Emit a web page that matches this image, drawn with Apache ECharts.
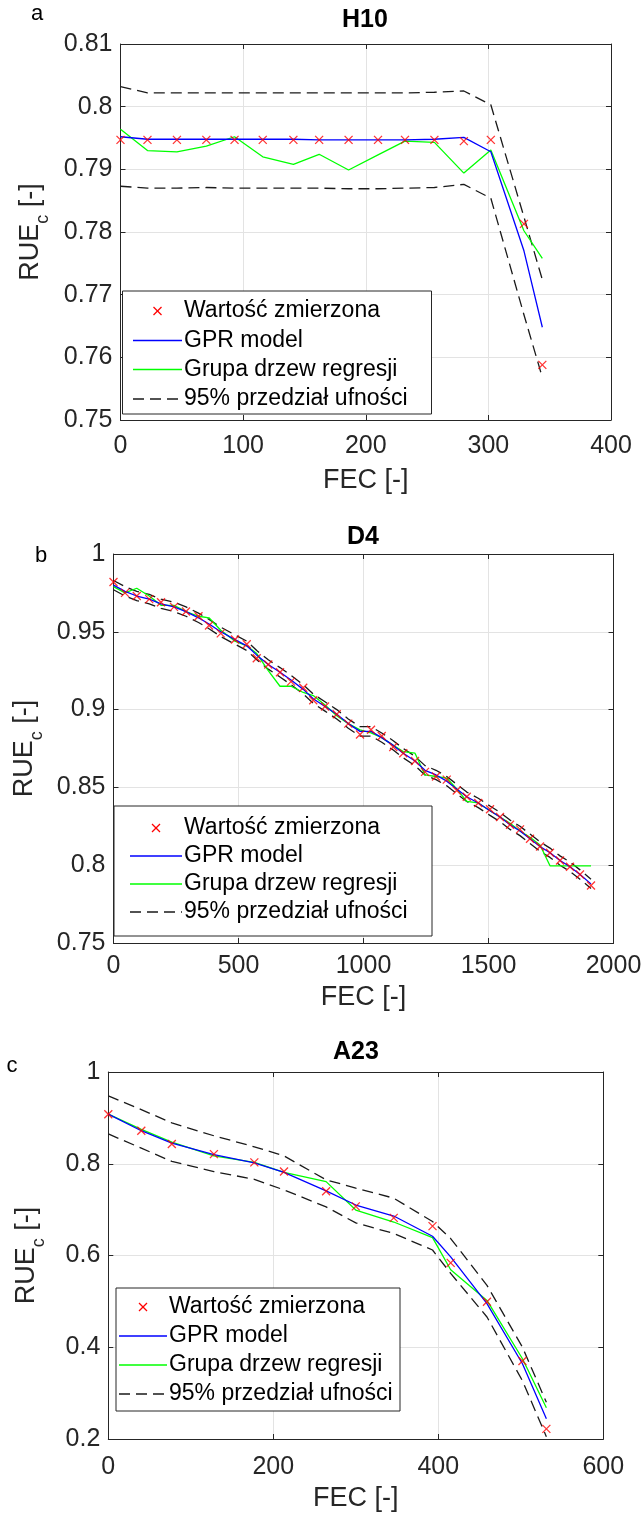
<!DOCTYPE html>
<html><head><meta charset="utf-8">
<script src="https://cdn.jsdelivr.net/npm/echarts@6/dist/echarts.min.js"></script>
<style>html,body{margin:0;padding:0;background:#fff}#c{width:642px;height:1517px}</style>
</head><body><div id="c"></div>
<script>
// ---------- Panel a: H10 ----------
const h10_fec      = [0, 22, 46, 70, 93, 116, 141, 162, 186, 210, 232, 256, 280, 302, 329, 344];
const h10_measured = [0.7947, 0.7947, 0.7947, 0.7947, 0.7947, 0.7947, 0.7947, 0.7947, 0.7947, 0.7947, 0.7947, 0.7947, 0.7945, 0.7947, 0.7813, 0.7588];
const h10_gpr      = [0.7952, 0.7948, 0.7948, 0.7948, 0.7948, 0.7948, 0.7948, 0.7947, 0.7947, 0.7947, 0.7947, 0.7948, 0.7951, 0.7928, 0.7770, 0.7648];
const h10_trees    = [0.7964, 0.7930, 0.7928, 0.7937, 0.7952, 0.7920, 0.7908, 0.7924, 0.7899, 0.7923, 0.7945, 0.7943, 0.7894, 0.7931, 0.7802, 0.7758];
const h10_upper    = [0.8032, 0.8022, 0.8022, 0.8022, 0.8022, 0.8022, 0.8022, 0.8022, 0.8022, 0.8022, 0.8022, 0.8023, 0.8025, 0.8003, 0.7824, 0.7724];
const h10_lower    = [0.7873, 0.7870, 0.7870, 0.7871, 0.7870, 0.7870, 0.7870, 0.7870, 0.7869, 0.7869, 0.7870, 0.7871, 0.7876, 0.7854, 0.7668, 0.7568];
const h10_xticks   = [0, 400, 100];
const h10_yticks   = [0.75, 0.81, 0.01];

// ---------- Panel b: D4 ----------
const d4_fec      = [0, 46, 93, 143, 190, 242, 290, 340, 382, 429, 486, 533, 573, 619, 666, 710, 759, 799, 846, 893, 939, 986, 1030, 1073, 1119, 1159, 1206, 1246, 1290, 1333, 1373, 1413, 1459, 1506, 1546, 1586, 1626, 1666, 1706, 1746, 1786, 1826, 1866, 1910];
const d4_measured = [0.982, 0.975, 0.973, 0.971, 0.969, 0.966, 0.963, 0.960, 0.954, 0.949, 0.945, 0.942, 0.933, 0.929, 0.924, 0.918, 0.914, 0.906, 0.902, 0.897, 0.891, 0.884, 0.887, 0.883, 0.876, 0.872, 0.867, 0.860, 0.857, 0.855, 0.848, 0.844, 0.840, 0.836, 0.831, 0.826, 0.823, 0.817, 0.812, 0.808, 0.803, 0.799, 0.794, 0.787];
const d4_gpr      = [0.980, 0.976, 0.973, 0.971, 0.968, 0.966, 0.963, 0.959, 0.955, 0.950, 0.945, 0.941, 0.935, 0.929, 0.924, 0.919, 0.913, 0.907, 0.902, 0.897, 0.891, 0.886, 0.886, 0.882, 0.877, 0.872, 0.867, 0.861, 0.858, 0.854, 0.849, 0.844, 0.840, 0.835, 0.831, 0.826, 0.822, 0.817, 0.812, 0.808, 0.803, 0.799, 0.794, 0.788];
const d4_trees    = [0.979, 0.975, 0.978, 0.973, 0.967, 0.967, 0.963, 0.960, 0.959, 0.951, 0.944, 0.941, 0.936, 0.925, 0.915, 0.915, 0.911, 0.909, 0.903, 0.896, 0.891, 0.887, 0.885, 0.882, 0.877, 0.873, 0.872, 0.858, 0.857, 0.856, 0.849, 0.841, 0.840, 0.835, 0.831, 0.827, 0.822, 0.818, 0.813, 0.7996, 0.7996, 0.7996, 0.7996, 0.7996];
const d4_upper    = [0.983, 0.979, 0.976, 0.974, 0.971, 0.969, 0.966, 0.962, 0.958, 0.953, 0.948, 0.944, 0.938, 0.932, 0.927, 0.922, 0.916, 0.910, 0.905, 0.900, 0.894, 0.889, 0.889, 0.885, 0.880, 0.875, 0.870, 0.864, 0.861, 0.857, 0.852, 0.847, 0.843, 0.838, 0.834, 0.829, 0.825, 0.820, 0.815, 0.811, 0.806, 0.802, 0.797, 0.791];
const d4_lower    = [0.977, 0.973, 0.970, 0.968, 0.965, 0.963, 0.960, 0.956, 0.952, 0.947, 0.942, 0.938, 0.932, 0.926, 0.921, 0.916, 0.910, 0.904, 0.899, 0.894, 0.888, 0.883, 0.883, 0.879, 0.874, 0.869, 0.864, 0.858, 0.855, 0.851, 0.846, 0.841, 0.837, 0.832, 0.828, 0.823, 0.819, 0.814, 0.809, 0.805, 0.800, 0.796, 0.791, 0.785];
const d4_xticks   = [0, 2000, 500];
const d4_yticks   = [0.75, 1, 0.05];

// ---------- Panel c: A23 ----------
const a23_fec      = [0, 40, 77, 128, 177, 213, 264, 300, 346, 393, 415, 459, 502, 531];
const a23_measured = [0.908, 0.872, 0.843, 0.821, 0.803, 0.783, 0.740, 0.707, 0.682, 0.664, 0.584, 0.499, 0.370, 0.222];
const a23_gpr      = [0.908, 0.872, 0.845, 0.820, 0.802, 0.781, 0.741, 0.710, 0.686, 0.642, 0.597, 0.495, 0.364, 0.244];
const a23_trees    = [0.908, 0.875, 0.847, 0.817, 0.803, 0.781, 0.761, 0.699, 0.673, 0.639, 0.569, 0.502, 0.375, 0.268];
const a23_upper    = [0.948, 0.918, 0.889, 0.861, 0.837, 0.817, 0.765, 0.747, 0.725, 0.674, 0.637, 0.535, 0.400, 0.280];
const a23_lower    = [0.865, 0.834, 0.805, 0.783, 0.766, 0.743, 0.706, 0.671, 0.648, 0.612, 0.561, 0.466, 0.327, 0.205];
const a23_xticks   = [0, 600, 200];
const a23_yticks   = [0.2, 1, 0.2];

const titles = ['H10', 'D4', 'A23'];
const letters = ['a', 'b', 'c'];
const legendLabels = ['Wartość zmierzona', 'GPR model', 'Grupa drzew regresji', '95% przedział ufności'];
const xName = 'FEC [-]';

// ---------- layout / style ----------
const FONT = '"Liberation Sans", Arial, Helvetica, sans-serif';
const AX = '#262626';
const GRIDC = '#e3e3e3';
const panels = [
  { d: [h10_fec, h10_measured, h10_gpr, h10_trees, h10_upper, h10_lower], xt: h10_xticks, yt: h10_yticks, dec: 2,
    grid: { left: 120.5, top: 44, width: 490.5, height: 376 }, yGap: 68, xGap: 47, xMargin: 14,
    title: [365, 20], letter: [37, 14],
    leg: { x: 122.5, y: 291, w: 309, h: 123, rows: [311, 340.5, 369.5, 399], s0: 133, s1: 182, tx: 184 } },
  { d: [d4_fec, d4_measured, d4_gpr, d4_trees, d4_upper, d4_lower], xt: d4_xticks, yt: d4_yticks, dec: 2,
    grid: { left: 113.5, top: 554, width: 500, height: 389 }, yGap: 66, xGap: 41, xMargin: 11,
    title: [363, 537], letter: [41, 556],
    leg: { x: 114, y: 806, w: 318, h: 130, rows: [828, 856, 884, 912], s0: 130, s1: 182, tx: 184 } },
  { d: [a23_fec, a23_measured, a23_gpr, a23_trees, a23_upper, a23_lower], xt: a23_xticks, yt: a23_yticks, dec: 1,
    grid: { left: 108.3, top: 1072, width: 495, height: 367 }, yGap: 60, xGap: 46, xMargin: 16,
    title: [356, 1052], letter: [12, 1066],
    leg: { x: 116, y: 1288, w: 284, h: 123, rows: [1307, 1336, 1365, 1394], s0: 119, s1: 167, tx: 169 } }
];

const grids = [], xAxes = [], yAxes = [], series = [], graphic = [];
const fmt = (dec) => (v) => String(+(+v).toFixed(dec));

panels.forEach((p, i) => {
  grids.push(Object.assign({ containLabel: false, outerBoundsMode: 'none', show: false }, p.grid));
  const [xmin, xmax, xint] = p.xt, [ymin, ymax, yint] = p.yt;
  const tick = { show: true, inside: true, length: 5, lineStyle: { color: AX, width: 1 } };
  const line = { show: true, onZero: false, lineStyle: { color: AX, width: 1 } };
  xAxes.push({ gridIndex: i, type: 'value', position: 'bottom', min: xmin, max: xmax, interval: xint,
    axisLine: line, axisTick: tick,
    axisLabel: { color: AX, fontSize: 25, fontFamily: FONT, margin: p.xMargin, hideOverlap: false, showMinLabel: true, showMaxLabel: true, formatter: (v) => String(v) },
    splitLine: { show: true, lineStyle: { color: GRIDC, width: 1 } },
    name: xName, nameLocation: 'middle', nameGap: p.xGap,
    nameTextStyle: { color: AX, fontSize: 27, fontFamily: FONT } });
  xAxes.push({ gridIndex: i, type: 'value', position: 'top', min: xmin, max: xmax, interval: xint,
    axisLine: line, axisTick: tick, axisLabel: { show: false }, splitLine: { show: false } });
  yAxes.push({ gridIndex: i, type: 'value', position: 'left', min: ymin, max: ymax, interval: yint,
    axisLine: line, axisTick: tick,
    axisLabel: { color: AX, fontSize: 25, fontFamily: FONT, margin: 8, formatter: fmt(p.dec), showMinLabel: true, showMaxLabel: true },
    splitLine: { show: true, lineStyle: { color: GRIDC, width: 1 } },
    name: '{m|RUE}{s|c}{m| [-]}', nameLocation: 'middle', nameGap: p.yGap, nameRotate: 90,
    nameTextStyle: { color: AX, fontFamily: FONT,
      rich: { m: { fontSize: 27, fontFamily: FONT, color: AX, lineHeight: 35, verticalAlign: 'top' },
              s: { fontSize: 18, fontFamily: FONT, color: AX, lineHeight: 18, verticalAlign: 'bottom' } } } });
  yAxes.push({ gridIndex: i, type: 'value', position: 'right', min: ymin, max: ymax, interval: yint,
    axisLine: line, axisTick: tick, axisLabel: { show: false }, splitLine: { show: false } });

  const [fec, meas, gpr, trees, up, lo] = p.d;
  const pts = (arr) => fec.map((x, k) => [x, arr[k]]);
  const xi = i * 2, yi = i * 2;
  const dash = { color: '#1a1a1a', width: 1.3, type: [11, 6] };
  series.push({ type: 'line', name: legendLabels[3], xAxisIndex: xi, yAxisIndex: yi, data: pts(up), showSymbol: false, lineStyle: dash, silent: true, z: 2 });
  series.push({ type: 'line', name: legendLabels[3], xAxisIndex: xi, yAxisIndex: yi, data: pts(lo), showSymbol: false, lineStyle: dash, silent: true, z: 2 });
  series.push({ type: 'line', name: legendLabels[2], xAxisIndex: xi, yAxisIndex: yi, data: pts(trees), showSymbol: false, lineStyle: { color: '#00ff00', width: 1.3 }, silent: true, z: 3 });
  series.push({ type: 'line', name: legendLabels[1], xAxisIndex: xi, yAxisIndex: yi, data: pts(gpr), showSymbol: false, lineStyle: { color: '#0000ff', width: 1.3 }, silent: true, z: 4 });
  series.push({ type: 'scatter', name: legendLabels[0], xAxisIndex: xi, yAxisIndex: yi, data: pts(meas),
    symbol: 'path://M0,0L10,10M10,0L0,10', symbolSize: 8,
    itemStyle: { color: 'rgba(0,0,0,0)', borderColor: '#ff0000', borderWidth: 1.3 }, silent: true, z: 5 });

  graphic.push({ type: 'text', x: p.title[0], y: p.title[1], z: 10,
    style: { text: titles[i], font: 'bold 25px ' + FONT, fill: '#000', align: 'center', verticalAlign: 'middle' } });
  graphic.push({ type: 'text', x: p.letter[0], y: p.letter[1], z: 10,
    style: { text: letters[i], font: '22px ' + FONT, fill: '#000', align: 'center', verticalAlign: 'middle' } });

  const L = p.leg;
  graphic.push({ type: 'rect', z: 20, shape: { x: L.x, y: L.y, width: L.w, height: L.h },
    style: { fill: '#fff', stroke: AX, lineWidth: 1 } });
  const cx = (L.s0 + L.s1) / 2, r = 4;
  graphic.push({ type: 'line', z: 21, shape: { x1: cx - r, y1: L.rows[0] - r, x2: cx + r, y2: L.rows[0] + r }, style: { stroke: '#ff0000', lineWidth: 1.3 } });
  graphic.push({ type: 'line', z: 21, shape: { x1: cx - r, y1: L.rows[0] + r, x2: cx + r, y2: L.rows[0] - r }, style: { stroke: '#ff0000', lineWidth: 1.3 } });
  graphic.push({ type: 'line', z: 21, shape: { x1: L.s0, y1: L.rows[1], x2: L.s1, y2: L.rows[1] }, style: { stroke: '#0000ff', lineWidth: 1.3 } });
  graphic.push({ type: 'line', z: 21, shape: { x1: L.s0, y1: L.rows[2], x2: L.s1, y2: L.rows[2] }, style: { stroke: '#00ff00', lineWidth: 1.3 } });
  graphic.push({ type: 'line', z: 21, shape: { x1: L.s0, y1: L.rows[3], x2: L.s1, y2: L.rows[3] }, style: { stroke: '#1a1a1a', lineWidth: 1.3, lineDash: [11, 6] } });
  L.rows.forEach((ry, k) => {
    graphic.push({ type: 'text', z: 21, x: L.tx, y: ry,
      style: { text: legendLabels[k], font: '23px ' + FONT, fill: '#000', align: 'left', verticalAlign: 'middle' } });
  });
});

const chart = echarts.init(document.getElementById('c'), null, { renderer: 'canvas' });
chart.setOption({
  backgroundColor: '#fff',
  animation: false,
  grid: grids, xAxis: xAxes, yAxis: yAxes, series: series, graphic: graphic
});
</script></body></html>
